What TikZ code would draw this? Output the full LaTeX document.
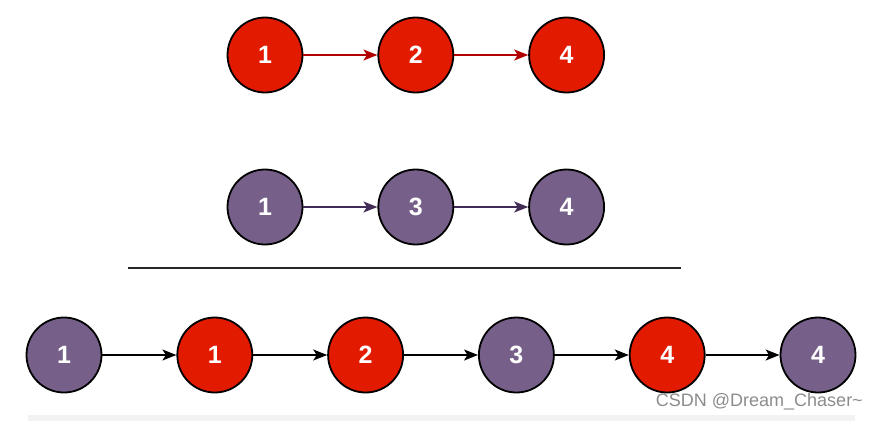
\documentclass[tikz,border=0pt]{standalone}
\usepackage{fontspec}
\setmainfont{Liberation Sans}
\usetikzlibrary{positioning, arrows.meta}

\definecolor{listred}{HTML}{E11A00}
\definecolor{listredline}{HTML}{B20000}
\definecolor{listpurple}{HTML}{76608A}
\definecolor{listpurpleline}{HTML}{432D57}

\begin{document}
\begin{tikzpicture}[
        x=1pt, y=-1pt,
        node distance=74pt,
        listnode/.style={
            circle,
            draw=black,
            line width=1.8pt,
            minimum size=75pt,
            inner sep=0pt,
            text=white,
            font=\fontsize{25}{25}\selectfont\bfseries
        },
        rednode/.style={listnode, fill=listred},
        purplenode/.style={listnode, fill=listpurple},
        link/.style={
            -{Stealth[length=14pt, width=11pt, inset=3.5pt]},
            line width=1.4pt
        }
    ]
    \useasboundingbox (0,0) rectangle (886,421);
    \fill[black!5] (28,415) rectangle (855,421);

    % First list
    \node[rednode] (a1) at (265,55) {1};
    \node[rednode, right=of a1] (a2) {2};
    \node[rednode, right=of a2] (a3) {4};

    % Second list
    \node[purplenode] (b1) at (265,207) {1};
    \node[purplenode, right=of b1] (b2) {3};
    \node[purplenode, right=of b2] (b3) {4};

    % Separator
    \coordinate (sepl) at (128,268);
    \coordinate (sepr) at (681,268);
    \draw[line width=1.8pt, black!85] (sepl) -- (sepr);

    % Merged list
    \node[purplenode] (m1) at (64,355) {1};
    \node[rednode, right=of m1] (m2) {1};
    \node[rednode, right=of m2] (m3) {2};
    \node[purplenode, right=of m3] (m4) {3};
    \node[rednode, right=of m4] (m5) {4};
    \node[purplenode, right=of m5] (m6) {4};

    % Links
    \draw[link, listredline] (a1) -- (a2);
    \draw[link, listredline] (a2) -- (a3);
    \draw[link, listpurpleline] (b1) -- (b2);
    \draw[link, listpurpleline] (b2) -- (b3);
    \foreach \i/\j in {1/2, 2/3, 3/4, 4/5, 5/6}
        \draw[link] (m\i) -- (m\j);

    % Watermark
    \node[anchor=east, text=black!45, font=\fontsize{18}{18}\selectfont, inner sep=0pt] (mark) at (863,402) {CSDN @Dream\_Chaser\textasciitilde};
\end{tikzpicture}
\end{document}
